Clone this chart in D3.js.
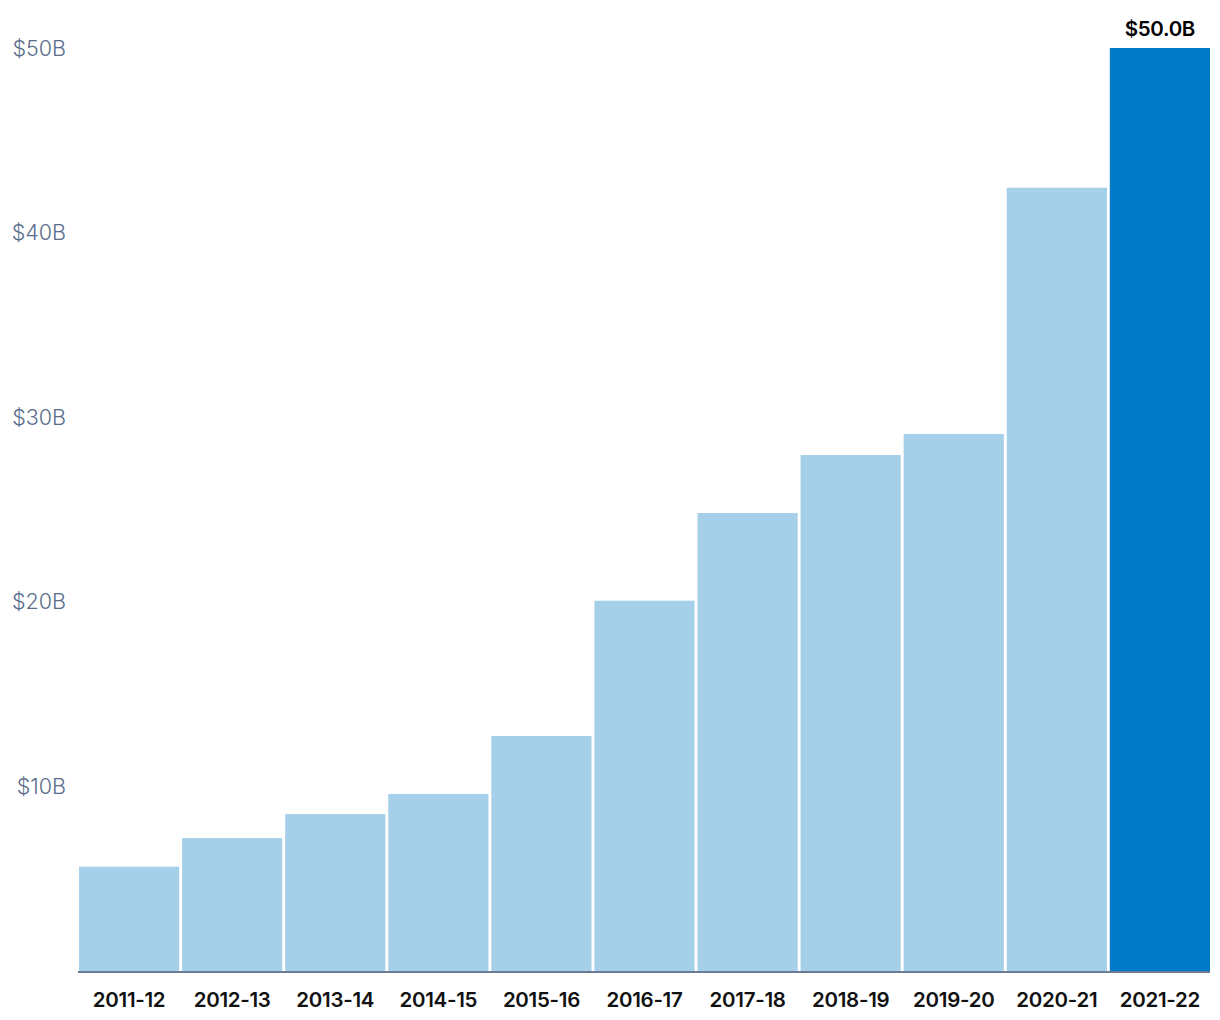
<!DOCTYPE html>
<html><head><meta charset="utf-8">
<script src="https://cdn.jsdelivr.net/npm/d3@7"></script>
<style>body{margin:0;background:#fff}</style>
</head><body>
<svg id="c" width="1220" height="1020"></svg>
<script>
const categories = ["2011-12","2012-13","2013-14","2014-15","2015-16","2016-17","2017-18","2018-19","2019-20","2020-21","2021-22"];
const values = [5.65,7.2,8.5,9.59,12.73,20.06,24.81,27.95,29.09,42.43,50.0];
const yTicks = [10,20,30,40,50];
const highlight = "2021-22";

const svg = d3.select("#c");
const x = d3.scaleBand().domain(categories).range([79,1210]).paddingInner(0.028).paddingOuter(0);
const y = d3.scaleLinear().domain([0,50]).range([971,48]);

svg.append("g").selectAll("rect").data(categories).join("rect")
  .attr("x", d => x(d)).attr("width", x.bandwidth())
  .attr("y", (d,i) => y(values[i])).attr("height", (d,i) => y(0)-y(values[i]))
  .attr("fill", d => d===highlight ? "#007bc8" : "#a6d0e9");

// baseline
svg.append("line").attr("x1",78).attr("x2",1210).attr("y1",y(0)+1).attr("y2",y(0)+1)
  .attr("stroke","#6b7b93").attr("stroke-width",2);

// y labels
svg.append("g").selectAll("text").data(yTicks).join("text")
  .attr("x",66).attr("y",d=>y(d)).attr("dy","0.35em").attr("text-anchor","end")
  .attr("font-family","Inter, Roboto, sans-serif").attr("font-size",21.5).attr("font-weight",300)
  .attr("fill","#5a6d8c").text(d=>"$"+d+"B");

// x labels
svg.append("g").selectAll("text").data(categories).join("text")
  .attr("x",d=>x(d)+x.bandwidth()/2).attr("y",1007).attr("text-anchor","middle")
  .attr("font-family","Inter, Roboto, sans-serif").attr("font-size",20.5).attr("font-weight",600)
  .attr("letter-spacing","-0.3").attr("fill","#111").text(d=>d);

// value label
const hi = categories.indexOf(highlight);
svg.append("text").attr("x",x(highlight)+x.bandwidth()/2).attr("y",y(values[hi])-12)
  .attr("text-anchor","middle").attr("font-family","Inter, Roboto, sans-serif")
  .attr("font-size",20.5).attr("font-weight",600).attr("letter-spacing","-0.3").attr("fill","#000")
  .text("$"+values[hi].toFixed(1)+"B");
</script>
</body></html>
